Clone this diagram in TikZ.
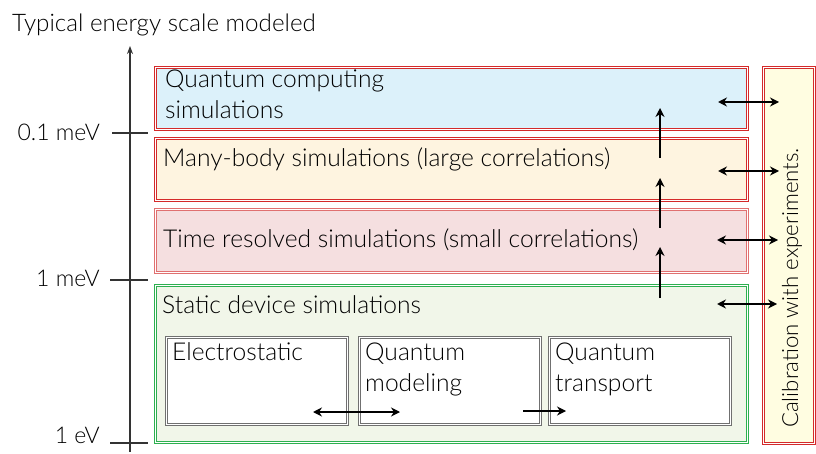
\documentclass[tikz,border=0pt]{standalone}
\usepackage{fontspec}
\setmainfont{Lato}[UprightFont=* Light]
\usetikzlibrary{arrows.meta}
\definecolor{bfill}{HTML}{DCF1FA}
\definecolor{ofill}{HTML}{FEF4E0}
\definecolor{pfill}{HTML}{F5DFE0}
\definecolor{gfill}{HTML}{F1F6E9}
\definecolor{yfill}{HTML}{FFFDE1}
\definecolor{redb}{HTML}{D42A2A}
\definecolor{lredb}{HTML}{E07070}
\definecolor{greenb}{HTML}{2DB050}
\definecolor{grayb}{HTML}{707070}
\newcommand{\twolines}[2]{\begin{tabular}[t]{@{}l@{}}#1\\#2\end{tabular}}
\tikzset{
  layer/.style={draw=redb, double=white, double distance=1.2pt, line width=1pt, minimum width=592pt, anchor=north west, inner sep=0pt},
  inbox/.style={draw=grayb, double=white, double distance=1pt, line width=1pt, fill=white, minimum width=181pt, minimum height=87pt, anchor=north west, inner sep=0pt},
  lbl/.style={anchor=base west, inner sep=0pt, font=\fontsize{24.6}{31}\selectfont},
  arr/.style={-{Stealth[length=9pt,width=9pt]}, line width=2.2pt},
  darr/.style={{Stealth[length=9pt,width=9pt]}-{Stealth[length=9pt,width=9pt]}, line width=2.2pt},
  tick/.style={line width=1.3pt, draw=black!80},
  tlbl/.style={anchor=base east, inner sep=0pt, font=\fontsize{23}{28}\selectfont},
}
\begin{document}
\begin{tikzpicture}[x=1pt,y=-1pt]
\useasboundingbox (0,0) rectangle (816,454);
% title
\node[anchor=base west, inner sep=0pt, font=\fontsize{24.2}{31}\selectfont] (title) at (12,32) {Typical energy scale modeled};
% axis
\coordinate (abot) at (130,452);
\coordinate (atop) at (130,46);
\draw[-{Stealth[length=8pt,width=6pt]}, line width=1.4pt, draw=black!80] (abot) -- (atop);
\coordinate (t1a) at (112,133); \coordinate (t1b) at (148,133);
\coordinate (t2a) at (110,280); \coordinate (t2b) at (148,280);
\coordinate (t3a) at (110,443); \coordinate (t3b) at (148,443);
\draw[tick] (t1a) -- (t1b);
\draw[tick] (t2a) -- (t2b);
\draw[tick] (t3a) -- (t3b);
\node[tlbl] (l1) at (100,141) {0.1 meV};
\node[tlbl] (l2) at (100,287) {1 meV};
\node[tlbl] (l3) at (100,443) {1 eV};
% layers
\node[layer, fill=bfill, minimum height=62pt] (qc) at (155,67) {};
\node[layer, fill=ofill, minimum height=62pt] (mb) at (155,138) {};
\node[layer, draw=lredb, fill=pfill, minimum height=63pt] (tr) at (155,209) {};
\node[layer, draw=greenb, fill=gfill, minimum height=157pt] (sd) at (155,285) {};
\node[layer, fill=yfill, minimum width=51pt, minimum height=376pt] (cal) at (763,67) {};
\node[rotate=90, font=\fontsize{22.2}{26}\selectfont, inner sep=0pt] (caltext) at (792,288) {Calibration with experiments.};
% labels
\node[lbl] (qct) at (165,88) {\twolines{Quantum computing}{simulations}};
\node[lbl] (mbt) at (163,167) {Many-body simulations (large correlations)};
\node[lbl] (trt) at (163,248) {Time resolved simulations (small correlations)};
\node[lbl] (sdt) at (162,313) {Static device simulations};
% inner boxes
\node[inbox] (es) at (166,337) {};
\node[inbox] (qm) at (359,337) {};
\node[inbox] (qt) at (549,337) {};
\node[lbl] (est) at (172,360) {Electrostatic};
\node[lbl] (qmt) at (365,360) {\twolines{Quantum}{modeling}};
\node[lbl] (qtt) at (555,360) {\twolines{Quantum}{transport}};
% vertical arrows
\coordinate (v1a) at (660,298); \coordinate (v1b) at (660,247);
\coordinate (v2a) at (660,228); \coordinate (v2b) at (660,178);
\coordinate (v3a) at (660,158); \coordinate (v3b) at (660,108);
\draw[arr] (v1a) -- (v1b);
\draw[arr] (v2a) -- (v2b);
\draw[arr] (v3a) -- (v3b);
% horizontal double arrows
\coordinate (h1a) at (718,102); \coordinate (h1b) at (779,102);
\coordinate (h2a) at (718,171); \coordinate (h2b) at (779,171);
\coordinate (h3a) at (717,240); \coordinate (h3b) at (778,240);
\coordinate (h4a) at (717,304); \coordinate (h4b) at (777,304);
\draw[darr] (h1a) -- (h1b);
\draw[darr] (h2a) -- (h2b);
\draw[darr] (h3a) -- (h3b);
\draw[darr] (h4a) -- (h4b);
\coordinate (e1a) at (313,412); \coordinate (e1b) at (400,412);
\draw[darr] (e1a) -- (e1b);
\coordinate (e2a) at (523,411); \coordinate (e2b) at (566,411);
\draw[arr] (e2a) -- (e2b);
\end{tikzpicture}
\end{document}
